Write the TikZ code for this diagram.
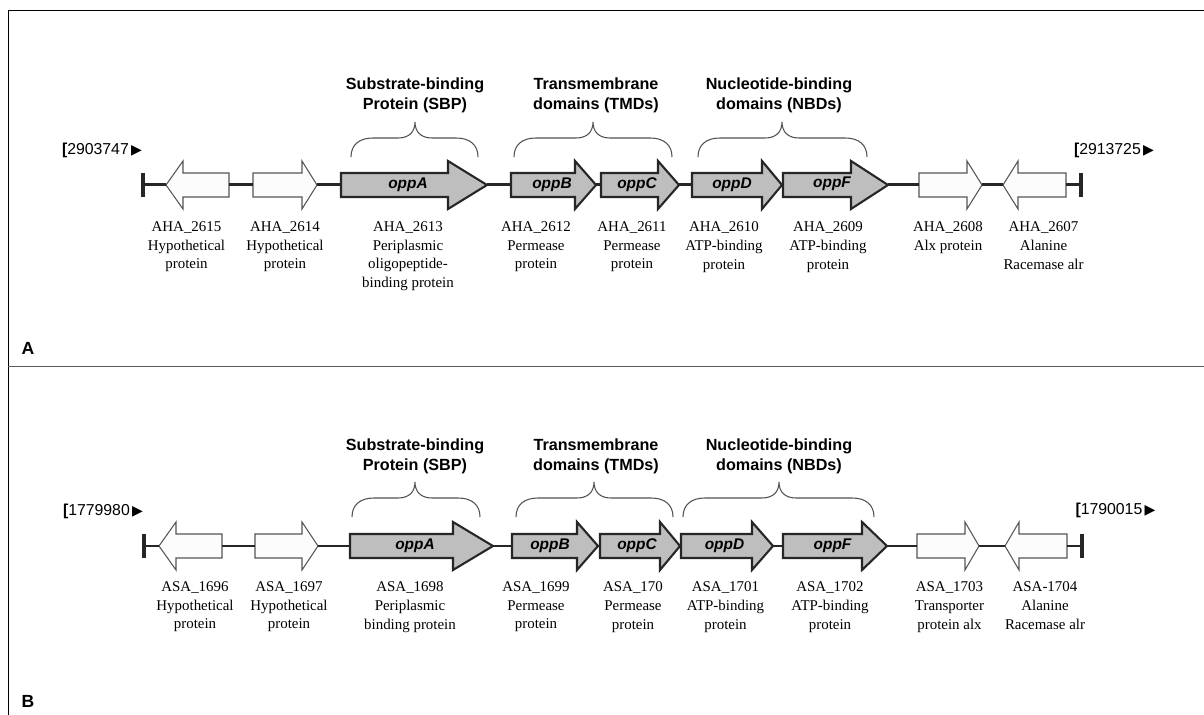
\documentclass[tikz,border=0pt]{standalone}
\usepackage{fontspec}
\setmainfont{Liberation Serif}
\setsansfont{Liberation Sans}
\newfontfamily\symfont{DejaVu Sans}
\usetikzlibrary{calc}
\definecolor{oppgray}{RGB}{190,190,190}
\definecolor{hypofill}{RGB}{252,252,252}
\definecolor{hypoline}{RGB}{85,85,85}
\definecolor{bracegray}{RGB}{80,80,80}
\definecolor{divgray}{RGB}{90,90,90}
\def\genearrow[#1](#2)(#3:#4:#5:#6){%
  \draw[#1] (#3,#6-12) -- (#4,#6-12) -- (#4,#6-24) -- (#5,#6) -- (#4,#6+24) -- (#4,#6+12) -- (#3,#6+12) -- cycle;
  \coordinate (#2-tail) at (#3,#6);
  \coordinate (#2-tip) at (#5,#6);}
\def\gbrace[#1](#2:#3:#4:#5){%
  \draw[#1] (#2,#5) .. controls (#2,#5-12) and (#2+8,#5-19) .. (#2+22,#5-19) -- (#3-17,#5-19) .. controls (#3-6,#5-19) and (#3,#5-25) .. (#3,#5-35) .. controls (#3,#5-25) and (#3+6,#5-19) .. (#3+17,#5-19) -- (#4-22,#5-19) .. controls (#4-8,#5-19) and (#4,#5-12) .. (#4,#5);}
\tikzset{
  spine/.style={line width=1.7pt, black!85},
  endbar/.style={line width=1.8pt, black!85},
  hypo/.style={fill=hypofill, draw=hypoline, line width=0.6pt},
  opp/.style={fill=oppgray, draw=black!85, line width=1.2pt},
  oppname/.style={font=\sffamily\bfseries\itshape\fontsize{8.8}{10}\selectfont, inner sep=0pt},
  genelabel/.style={anchor=north, align=center, inner sep=0pt, font=\fontsize{8.5}{10.6}\selectfont},
  domainhead/.style={anchor=north, align=center, inner sep=0pt, font=\sffamily\bfseries\fontsize{9.2}{11.3}\selectfont},
  bracket/.style={draw=bracegray, line width=0.6pt},
  coordlabel/.style={inner sep=0pt, font=\sffamily\fontsize{9}{10}\selectfont},
  panel/.style={inner sep=0pt, font=\sffamily\bfseries\fontsize{10}{12}\selectfont},
}
\newcommand\tri{{\symfont\fontsize{8}{8}\selectfont\,▶}}

\begin{document}
\begin{tikzpicture}[x=0.02cm, y=-0.02cm]
	\useasboundingbox (0,0) rectangle (1204,715);
	
	%%%%% frame %%%%%
	\draw[line width=1.1pt] (8,10.5) -- (1204,10.5);
	\draw[line width=1.1pt] (8.5,10) -- (8.5,715);
	\draw[divgray, line width=1.1pt] (8,366.5) -- (1204,366.5);
	
	%%%%% panel A %%%%%
	\coordinate (lbarA) at (143,185);
	\coordinate (rbarA) at (1081,185);
	\draw[endbar] ($(lbarA)+(0,-12)$) -- ($(lbarA)+(0,12)$);
	\draw[endbar] ($(rbarA)+(0,-12)$) -- ($(rbarA)+(0,12)$);
	
	\genearrow[hypo](a1)(229:183:166:185)
	\genearrow[hypo](a2)(253:302:317:185)
	\genearrow[opp](a3)(341:448:487:185)
	\genearrow[opp](a4)(511:575:596:185)
	\genearrow[opp](a5)(601:658:679:185)
	\genearrow[opp](a6)(692:762:782:185)
	\genearrow[opp](a7)(783:851:888:185)
	\genearrow[hypo](a8)(919:967:982:185)
	\genearrow[hypo](a9)(1066:1018:1003:185)
	
	\draw[spine] (lbarA) -- (a1-tip);
	\draw[spine] (a1-tail) -- (a2-tail);
	\draw[spine] (a2-tip) -- (a3-tail);
	\draw[spine] (a3-tip) -- (a4-tail);
	\draw[spine] (a4-tip) -- (a5-tail);
	\draw[spine] (a5-tip) -- (a6-tail);
	\draw[spine] (a6-tip) -- (a7-tail);
	\draw[spine] (a7-tip) -- (a8-tail);
	\draw[spine] (a8-tip) -- (a9-tip);
	\draw[spine] (a9-tail) -- (rbarA);
	
	\node[oppname] (oppAa) at (408,185) {oppA};
	\node[oppname] (oppBa) at (552,185) {oppB};
	\node[oppname] (oppCa) at (637,185) {oppC};
	\node[oppname] (oppDa) at (732,185) {oppD};
	\node[oppname] (oppFa) at (832,184) {oppF};
	
	\node[coordlabel] (startA) at (102,150) {{\bfseries[}2903747\tri};
	\node[coordlabel] (endA) at (1114,150) {{\bfseries[}2913725\tri};
	
	\gbrace[bracket](351:415:478:157)
	\gbrace[bracket](514:593:672:157)
	\gbrace[bracket](698:782:867:157)
	\node[domainhead] (sbpA) at (415,77.5) {Substrate-binding\\Protein (SBP)};
	\node[domainhead] (tmdA) at (596,77.5) {Transmembrane\\domains (TMDs)};
	\node[domainhead] (nbdA) at (779,77.5) {Nucleotide-binding\\domains (NBDs)};
	
	\node[genelabel] (l1a) at (186.5,221.5) {AHA\_2615\\Hypothetical\\protein};
	\node[genelabel] (l2a) at (285,221.5) {AHA\_2614\\Hypothetical\\protein};
	\node[genelabel] (l3a) at (408,221.5) {AHA\_2613\\Periplasmic\\oligopeptide-\\binding protein};
	\node[genelabel] (l4a) at (536,221.5) {AHA\_2612\\Permease\\protein};
	\node[genelabel] (l5a) at (632,221.5) {AHA\_2611\\Permease\\protein};
	\node[genelabel] (l6a) at (724,221.5) {AHA\_2610\\ATP-binding\\protein};
	\node[genelabel] (l7a) at (828,221.5) {AHA\_2609\\ATP-binding\\protein};
	\node[genelabel] (l8a) at (948,221.5) {AHA\_2608\\Alx protein};
	\node[genelabel] (l9a) at (1043.5,221.5) {AHA\_2607\\Alanine\\Racemase alr};
	
	\node[panel] (panelA) at (28,348) {A};
	
	%%%%% panel B %%%%%
	\coordinate (lbarB) at (144,546);
	\coordinate (rbarB) at (1082,546);
	\draw[endbar] ($(lbarB)+(0,-12)$) -- ($(lbarB)+(0,12)$);
	\draw[endbar] ($(rbarB)+(0,-12)$) -- ($(rbarB)+(0,12)$);
	
	\genearrow[hypo](b1)(222:176:159:546)
	\genearrow[hypo](b2)(255:302:318:546)
	\genearrow[opp](b3)(350:453:493:546)
	\genearrow[opp](b4)(512:577:598:546)
	\genearrow[opp](b5)(600:660:680:546)
	\genearrow[opp](b6)(681:752:773:546)
	\genearrow[opp](b7)(783:862:887:546)
	\genearrow[hypo](b8)(917:965:979:546)
	\genearrow[hypo](b9)(1067:1019:1005:546)
	
	\draw[spine] (lbarB) -- (b1-tip);
	\draw[spine] (b1-tail) -- (b2-tail);
	\draw[spine] (b2-tip) -- (b3-tail);
	\draw[spine] (b3-tip) -- (b4-tail);
	\draw[spine] (b4-tip) -- (b5-tail);
	\draw[spine] (b5-tip) -- (b6-tail);
	\draw[spine] (b6-tip) -- (b7-tail);
	\draw[spine] (b7-tip) -- (b8-tail);
	\draw[spine] (b8-tip) -- (b9-tip);
	\draw[spine] (b9-tail) -- (rbarB);
	
	\node[oppname] (oppAb) at (415,546) {oppA};
	\node[oppname] (oppBb) at (550,546) {oppB};
	\node[oppname] (oppCb) at (637,546) {oppC};
	\node[oppname] (oppDb) at (724.5,546) {oppD};
	\node[oppname] (oppFb) at (832.5,546) {oppF};
	
	\node[coordlabel] (startB) at (103,511) {{\bfseries[}1779980\tri};
	\node[coordlabel] (endB) at (1115.5,510) {{\bfseries[}1790015\tri};
	
	\gbrace[bracket](352:415:480:517)
	\gbrace[bracket](516:594:673:517)
	\gbrace[bracket](683:779:874:517)
	\node[domainhead] (sbpB) at (415,438.5) {Substrate-binding\\Protein (SBP)};
	\node[domainhead] (tmdB) at (596,438.5) {Transmembrane\\domains (TMDs)};
	\node[domainhead] (nbdB) at (779,438.5) {Nucleotide-binding\\domains (NBDs)};
	
	\node[genelabel] (l1b) at (195,581.5) {ASA\_1696\\Hypothetical\\protein};
	\node[genelabel] (l2b) at (289,581.5) {ASA\_1697\\Hypothetical\\protein};
	\node[genelabel] (l3b) at (410,581.5) {ASA\_1698\\Periplasmic\\binding protein};
	\node[genelabel] (l4b) at (536,581.5) {ASA\_1699\\Permease\\protein};
	\node[genelabel] (l5b) at (633,581.5) {ASA\_170\\Permease\\protein};
	\node[genelabel] (l6b) at (725.5,581.5) {ASA\_1701\\ATP-binding\\protein};
	\node[genelabel] (l7b) at (830,581.5) {ASA\_1702\\ATP-binding\\protein};
	\node[genelabel] (l8b) at (949.5,581.5) {ASA\_1703\\Transporter\\protein alx};
	\node[genelabel] (l9b) at (1045,581.5) {ASA-1704\\Alanine\\Racemase alr};
	
	\node[panel] (panelB) at (28,701) {B};
\end{tikzpicture}
\end{document}
